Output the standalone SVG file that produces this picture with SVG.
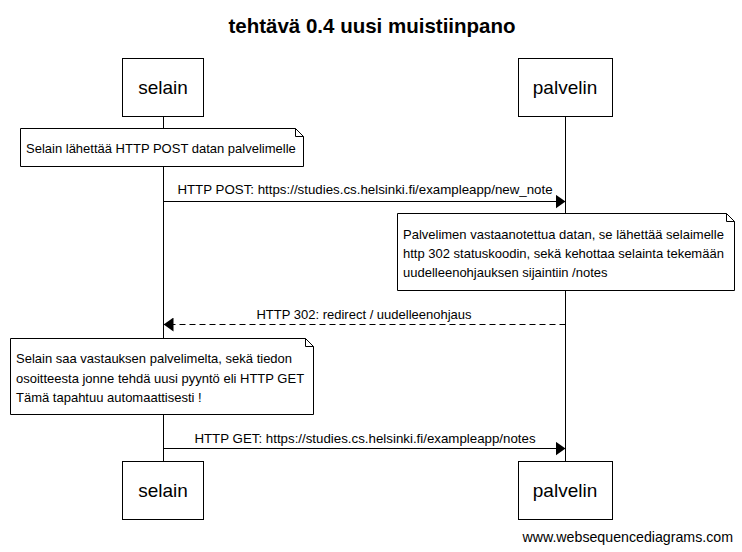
<svg xmlns="http://www.w3.org/2000/svg" width="742" height="552" viewBox="0 0 742 552">
<defs>
<style>
text{font-family:"Liberation Sans",Arial,sans-serif;fill:#000}
.title{font-size:20.5px;font-weight:bold;text-anchor:middle}
.actor rect{fill:#fff;stroke:#000;stroke-width:1}
.actor text{font-size:19px;text-anchor:middle}
.note path{fill:#fff;stroke:#000;stroke-width:1}
.note text{font-size:13px}
.lbl{font-size:13.3px;text-anchor:middle}
.lbl2{font-size:13px;text-anchor:middle}
.life{stroke:#000;stroke-width:1}
.msg{stroke:#000;stroke-width:1;fill:none}
.dash{stroke-dasharray:6,4}
.wm{font-size:14.2px;text-anchor:end}
</style>
<marker id="ah" viewBox="0 0 10 14" refX="10" refY="7" markerWidth="10" markerHeight="14" markerUnits="userSpaceOnUse" orient="auto">
<path d="M0,0 L10,7 L0,14 Z" fill="#000"/>
</marker>
</defs>
<rect width="742" height="552" fill="#fff"/>
<text class="title" x="372" y="33">tehtävä 0.4 uusi muistiinpano</text>
<g id="lifelines">
<line class="life" x1="163.5" y1="116" x2="163.5" y2="461"/>
<line class="life" x1="565.5" y1="116" x2="565.5" y2="461"/>
</g>
<g id="selain-top" class="actor"><rect x="122.5" y="58.5" width="81" height="58"/><text x="163" y="94">selain</text></g>
<g id="palvelin-top" class="actor"><rect x="518.5" y="58.5" width="94" height="58"/><text x="565" y="94">palvelin</text></g>
<g id="selain-bottom" class="actor"><rect x="122.5" y="461.5" width="81" height="58"/><text x="163" y="497">selain</text></g>
<g id="palvelin-bottom" class="actor"><rect x="518.5" y="461.5" width="94" height="58"/><text x="565" y="497">palvelin</text></g>
<g id="note1" class="note">
<path d="M20.5,128.5 H295.5 L303.5,136.5 V166.5 H20.5 Z M295.5,128.5 V136.5 H303.5"/>
<text x="26" y="153">Selain lähettää HTTP POST datan palvelimelle</text>
</g>
<g id="note2" class="note">
<path d="M397.5,213.5 H726.5 L734.5,221.5 V290.5 H397.5 Z M726.5,213.5 V221.5 H734.5"/>
<text x="403" y="239">Palvelimen vastaanotettua datan, se lähettää selaimelle</text>
<text x="403" y="258">http 302 statuskoodin, sekä kehottaa selainta tekemään</text>
<text x="403" y="277">uudelleenohjauksen sijaintiin /notes</text>
</g>
<g id="note3" class="note">
<path d="M10.5,338.5 H305.5 L313.5,346.5 V414.5 H10.5 Z M305.5,338.5 V346.5 H313.5"/>
<text x="16" y="363">Selain saa vastauksen palvelimelta, sekä tiedon</text>
<text x="16" y="383">osoitteesta jonne tehdä uusi pyyntö eli HTTP GET</text>
<text x="16" y="402">Tämä tapahtuu automaattisesti !</text>
</g>
<g id="connectors">
<line class="msg" x1="163.5" y1="201.5" x2="565.5" y2="201.5" marker-end="url(#ah)"/>
<text class="lbl" x="365" y="194">HTTP POST: https://studies.cs.helsinki.fi/exampleapp/new_note</text>
<line class="msg dash" x1="565.5" y1="324.5" x2="163.5" y2="324.5" marker-end="url(#ah)"/>
<text class="lbl2" x="364" y="319">HTTP 302: redirect / uudelleenohjaus</text>
<line class="msg" x1="163.5" y1="448.5" x2="565.5" y2="448.5" marker-end="url(#ah)"/>
<text class="lbl" x="365" y="443">HTTP GET: https://studies.cs.helsinki.fi/exampleapp/notes</text>
</g>
<text class="wm" x="733" y="542">www.websequencediagrams.com</text>
</svg>
